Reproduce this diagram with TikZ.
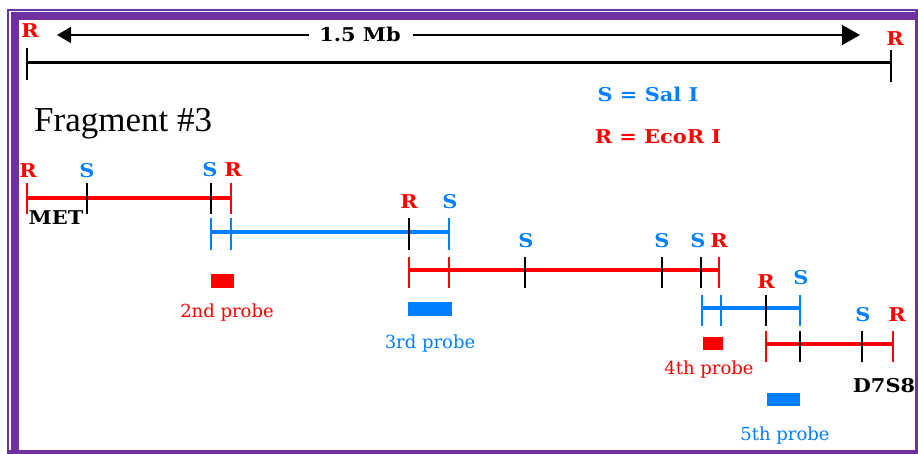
\documentclass[tikz,border=0pt]{standalone}
\usepackage{fontspec}
\usetikzlibrary{arrows.meta}
\setmainfont{Liberation Serif}
\newfontfamily\labfont{DejaVu Serif}[FakeStretch=1.1]
\newfontfamily\probefont{DejaVu Serif}

\definecolor{siteR}{RGB}{255,0,0}
\definecolor{siteS}{RGB}{0,128,255}
\definecolor{framepurple}{RGB}{112,48,160}

\tikzset{
  redline/.style={draw=siteR, line width=4pt},
  blueline/.style={draw=siteS, line width=4pt},
  redtick/.style={draw=siteR, line width=1.8pt},
  bluetick/.style={draw=siteS, line width=1.8pt},
  blacktick/.style={draw=black, line width=1.8pt},
  sitelab/.style={inner sep=0pt, anchor=base, font=\labfont\bfseries\fontsize{19}{19}\selectfont},
  rlab/.style={sitelab, text=siteR},
  slab/.style={sitelab, text=siteS},
  klab/.style={sitelab, text=black},
  probelab/.style={inner sep=0pt, anchor=base, font=\probefont\fontsize{18}{18}\selectfont},
  redprobe/.style={fill=siteR},
  blueprobe/.style={fill=siteS},
}

\begin{document}
\begin{tikzpicture}[x=1pt, y=-1pt]
\useasboundingbox (0,0) rectangle (918,454);

% frame: thin outer rule, gap, thick band on top and left
\fill[framepurple] (7,9) rectangle (918,454);
\fill[white] (9,11) rectangle (915,450);
\fill[framepurple] (11,12) rectangle (915,20);
\fill[framepurple] (11,12) rectangle (19,450);
\fill[white] (19,20) rectangle (915,450);

% ---- overall 1.5 Mb scale ----
\node[rlab] (topR1) at (30,38) {R};
\node[rlab] (topR2) at (895,46) {R};
\node[klab] (mb) at (360,42) {1.5 Mb};
\coordinate (arrL) at (57,35);
\coordinate (arrR) at (860,35);
\draw[line width=1.6pt, -{Triangle[length=14pt,width=16pt]}]
  ([xshift=-10pt]mb.west |- arrL) -- (arrL);
\draw[line width=1.6pt, -{Triangle[length=18pt,width=20pt]}]
  ([xshift=12pt]mb.east |- arrR) -- (arrR);
\coordinate (sL) at (27,63);
\coordinate (sR) at (891,63);
\draw[line width=3pt] (sL) -- (sR);
\draw[line width=1.8pt] (27,48) -- (27,80);
\draw[line width=1.8pt] (891,50) -- (891,82);

% legend
\node[slab] (legS) at (648,102) {S = Sal I};
\node[rlab] (legR) at (658,144) {R = EcoR I};

% title
\node[inner sep=0pt, anchor=base west, font=\fontsize{35}{35}\selectfont] (title) at (34,132) {Fragment \#3};

% ---- fragment 1 (EcoR I, red) ----
\coordinate (a1) at (27,198);
\coordinate (a2) at (87,198);
\coordinate (a3) at (211,198);
\coordinate (a4) at (231,198);
\draw[redline] (a1) -- (a4);
\foreach \p/\s in {a1/redtick, a2/blacktick, a3/blacktick, a4/redtick}
  \draw[\s] ([yshift=15pt]\p) -- ([yshift=-16pt]\p);
\node[rlab] (la1) at (28,178) {R};
\node[slab] (la2) at (87,178) {S};
\node[slab] (la3) at (210,177) {S};
\node[rlab] (la4) at (233,177) {R};
\node[klab] (met) at (56,225) {MET};

% ---- fragment 2 (Sal I, blue) ----
\coordinate (b1) at (211,232);
\coordinate (b2) at (231,232);
\coordinate (b3) at (409,232);
\coordinate (b4) at (449,232);
\draw[blueline] (b1) -- (b4);
\foreach \p/\s in {b1/bluetick, b2/bluetick, b3/blacktick, b4/bluetick}
  \draw[\s] ([yshift=14pt]\p) -- ([yshift=-18pt]\p);
\node[rlab] (lb3) at (409,209) {R};
\node[slab] (lb4) at (450,209) {S};

% ---- fragment 3 (EcoR I, red) ----
\coordinate (c1) at (409,270);
\coordinate (c2) at (449,270);
\coordinate (c3) at (525,270);
\coordinate (c4) at (662,270);
\coordinate (c5) at (701,270);
\coordinate (c6) at (719,270);
\draw[redline] (c1) -- (c6);
\foreach \p/\s in {c1/redtick, c2/redtick, c3/blacktick, c4/blacktick, c5/blacktick, c6/redtick}
  \draw[\s] ([yshift=13pt]\p) -- ([yshift=-18pt]\p);
\node[slab] (lc3) at (526,248) {S};
\node[slab] (lc4) at (662,248) {S};
\node[slab] (lc5) at (698,248) {S};
\node[rlab] (lc6) at (719,248) {R};

% ---- fragment 4 (Sal I, blue) ----
\coordinate (d1) at (702,308);
\coordinate (d2) at (721,308);
\coordinate (d3) at (766,308);
\coordinate (d4) at (800,308);
\draw[blueline] (d1) -- (d4);
\foreach \p/\s in {d1/bluetick, d2/bluetick, d3/blacktick, d4/bluetick}
  \draw[\s] ([yshift=13pt]\p) -- ([yshift=-18pt]\p);
\node[rlab] (ld3) at (766,288) {R};
\node[slab] (ld4) at (801,285) {S};

% ---- fragment 5 (EcoR I, red) ----
\coordinate (e1) at (766,344);
\coordinate (e2) at (800,344);
\coordinate (e3) at (862,344);
\coordinate (e4) at (893,344);
\draw[redline] (e1) -- (e4);
\foreach \p/\s in {e1/redtick, e2/blacktick, e3/blacktick, e4/redtick}
  \draw[\s] ([yshift=13pt]\p) -- ([yshift=-18pt]\p);
\node[slab] (le3) at (863,321) {S};
\node[rlab] (le4) at (897,321) {R};
\node[klab] (d7s8) at (884,392) {D7S8};

% ---- probes ----
\fill[redprobe] (211,274) rectangle (234,288);
\node[probelab, text=siteR] (p2) at (227,317) {2nd probe};
\fill[blueprobe] (408,302) rectangle (452,316);
\node[probelab, text=siteS] (p3) at (430,348) {3rd probe};
\fill[redprobe] (703,337) rectangle (723,350);
\node[probelab, text=siteR] (p4) at (709,374) {4th probe};
\fill[blueprobe] (767,393) rectangle (800,406);
\node[probelab, text=siteS] (p5) at (785,440) {5th probe};
\end{tikzpicture}
\end{document}
